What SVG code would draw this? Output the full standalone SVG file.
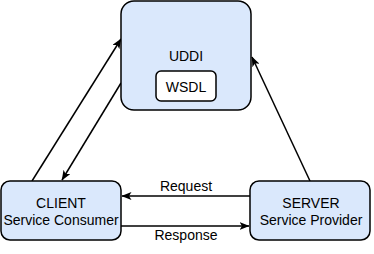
<svg xmlns="http://www.w3.org/2000/svg" width="374" height="254" viewBox="0 0 374 254">
  <defs>
    <style>
      .box { fill: #dae8fc; stroke: #000; stroke-width: 1.5; }
      .inner { fill: #fff; stroke: #000; stroke-width: 1.5; }
      .edge { fill: none; stroke: #000; stroke-width: 1.5; }
      text { font-family: "Liberation Sans", Arial, sans-serif; font-size: 14px; fill: #000; text-anchor: middle; }
    </style>
    <marker id="arrow" viewBox="0 0 10 8" refX="9.5" refY="4" markerWidth="10" markerHeight="8" markerUnits="userSpaceOnUse" orient="auto">
      <path d="M0,0 L10,4 L0,8 L2.5,4 Z" fill="#000"/>
    </marker>
  </defs>
  <rect width="374" height="254" fill="#fff"/>

  <g id="connectors">
    <line class="edge" x1="32" y1="181" x2="121" y2="39" marker-end="url(#arrow)"/>
    <line class="edge" x1="121" y1="83" x2="62" y2="180" marker-end="url(#arrow)"/>
    <line class="edge" x1="310" y1="181" x2="252" y2="57" marker-end="url(#arrow)"/>
    <line class="edge" x1="250" y1="196" x2="122" y2="196" marker-end="url(#arrow)"/>
    <line class="edge" x1="121" y1="226" x2="249" y2="226" marker-end="url(#arrow)"/>
    <text x="186" y="191">Request</text>
    <text x="186" y="240">Response</text>
  </g>

  <g id="uddi">
    <rect class="box" x="121" y="1" width="130" height="109" rx="13" ry="13"/>
    <text x="186" y="61">UDDI</text>
  </g>
  <g id="wsdl">
    <rect class="inner" x="156" y="71" width="60" height="30" rx="5" ry="5"/>
    <text x="186" y="92">WSDL</text>
  </g>
  <g id="client">
    <rect class="box" x="1" y="181" width="120" height="59" rx="9" ry="9"/>
    <text x="61" y="208">CLIENT</text>
    <text x="61" y="225">Service Consumer</text>
  </g>
  <g id="server">
    <rect class="box" x="250" y="181" width="120" height="59" rx="9" ry="9"/>
    <text x="311" y="208">SERVER</text>
    <text x="311" y="225">Service Provider</text>
  </g>
</svg>
